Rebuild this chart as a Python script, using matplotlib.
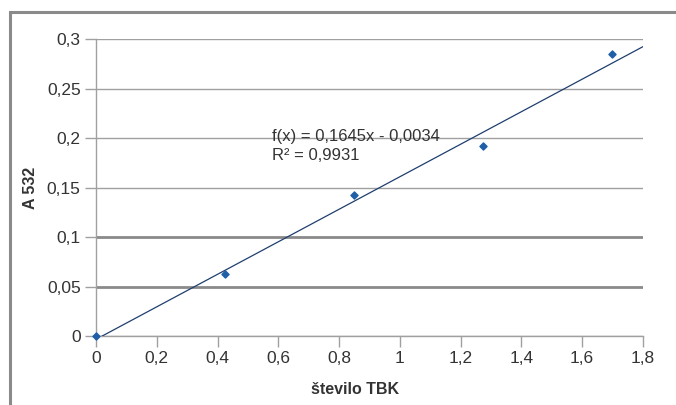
import matplotlib.pyplot as plt
from matplotlib.patches import Rectangle
from matplotlib.ticker import FuncFormatter, MultipleLocator

plt.rcParams["font.family"] = ["Liberation Sans", "DejaVu Sans"]

# Izmerjene vrednosti
tbk = [0.0, 0.425, 0.85, 1.275, 1.7]
a532 = [0.0, 0.063, 0.143, 0.192, 0.285]

# Linearna regresija
slope = 0.1645
intercept = -0.0034
r2 = 0.9931
fit_x = [0.0, 1.8]


def comma(v, pos=None):
    return f"{v:g}".replace(".", ",")


fig = plt.figure(figsize=(6.76, 4.05), dpi=100)
ax = fig.add_axes([0.142, 0.1704, 0.809, 0.7321])

# okvir okoli grafa
fig.add_artist(Rectangle((0.0148, -0.1), 1.2, 1.07, transform=fig.transFigure,
                         fill=False, edgecolor="#8a8a8a", linewidth=2.2))

fit_y = [slope * x + intercept for x in fit_x]
ax.plot(fit_x, fit_y, color="#1f3f6e", linewidth=0.9, zorder=3)
ax.scatter(tbk, a532, marker="D", s=13, color="#1f5fa8", zorder=4, clip_on=False)

ax.set_xlim(0, 1.8)
ax.set_ylim(0, 0.3)
ax.xaxis.set_major_locator(MultipleLocator(0.2))
ax.yaxis.set_major_locator(MultipleLocator(0.05))
ax.xaxis.set_major_formatter(FuncFormatter(comma))
ax.yaxis.set_major_formatter(FuncFormatter(comma))

ax.grid(axis="y", color="#a0a0a0", linewidth=1.0)
for line, v in zip(ax.get_ygridlines(), ax.get_yticks()):
    if abs(v - 0.05) < 1e-6 or abs(v - 0.1) < 1e-6:
        line.set_linewidth(2.0)
        line.set_color("#8a8a8a")
ax.set_axisbelow(True)

for s in ["top", "right"]:
    ax.spines[s].set_visible(False)
for s in ["left", "bottom"]:
    ax.spines[s].set_color("#a0a0a0")
    ax.spines[s].set_linewidth(1.0)

ax.tick_params(axis="both", length=8, width=1.0, color="#a0a0a0",
               labelcolor="#333333", labelsize=12.5, pad=3)

ax.set_xlabel("število TBK", fontsize=11.5, fontweight="bold", color="#333333")
ax.xaxis.set_label_coords(0.473, -0.155)
ax.set_ylabel("A 532", fontsize=11.5, fontweight="bold", color="#333333")
ax.yaxis.set_label_coords(-0.106, 0.5)

ax.text(0.579, 0.2015, f"f(x) = {comma(slope)}x - {comma(-intercept)}",
        fontsize=12, color="#333333", va="center")
ax.text(0.579, 0.1825, f"R² = {comma(r2)}", fontsize=12, color="#333333", va="center")

fig.savefig("out.png", dpi=100)
